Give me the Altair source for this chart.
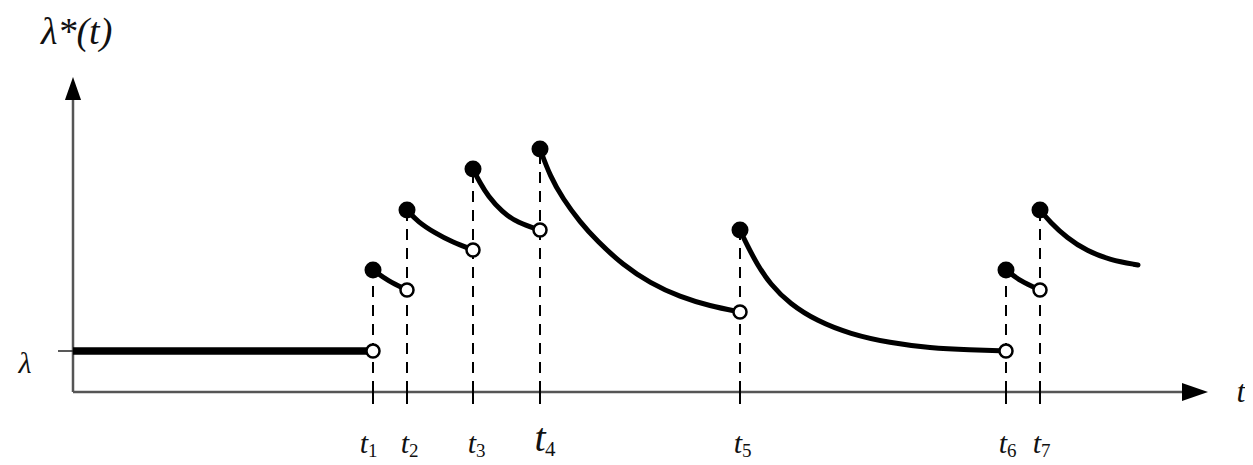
import altair as alt
import pandas as pd

# ---- data (t along the horizontal axis, lambda vertical) ----
event_t = [3.00, 3.34, 4.00, 4.67, 6.67, 9.33, 9.67]
event_names = ["1", "2", "3", "4", "5", "6", "7"]
jump_top = [1.22, 1.82, 2.23, 2.43, 1.62, 1.22, 1.82]   # intensity right after each event (filled dots)
pre_jump = [0.41, 1.02, 1.42, 1.62, 0.80, 0.41, 1.02]   # intensity just before each event (open dots)
base_lambda = 0.41

base_t = [0.00, 3.00]
base_l = [0.41, 0.41]

seg1_t = [3.00, 3.15, 3.34]
seg1_l = [1.22, 1.11, 1.02]
seg2_t = [3.34, 3.45, 3.62, 3.79, 4.00]
seg2_l = [1.82, 1.70, 1.59, 1.50, 1.42]
seg3_t = [4.00, 4.07, 4.15, 4.29, 4.45, 4.67]
seg3_l = [2.23, 2.09, 1.96, 1.80, 1.69, 1.62]
seg4_t = [4.67, 4.77, 4.90, 5.07, 5.24, 5.50, 5.77, 6.07, 6.37, 6.67]
seg4_l = [2.43, 2.16, 1.93, 1.70, 1.51, 1.27, 1.09, 0.95, 0.86, 0.80]
seg5_t = [6.67, 6.74, 6.84, 6.97, 7.17, 7.44, 7.77, 8.17, 8.57, 8.97, 9.33]
seg5_l = [1.62, 1.47, 1.28, 1.08, 0.88, 0.71, 0.58, 0.49, 0.44, 0.42, 0.41]
seg6_t = [9.33, 9.47, 9.67]
seg6_l = [1.22, 1.11, 1.02]
seg7_t = [9.67, 9.77, 9.94, 10.14, 10.37, 10.65]
seg7_l = [1.82, 1.70, 1.54, 1.41, 1.32, 1.27]

# label positions
label_t = [2.91, 3.32, 3.99, 4.67, 6.65, 9.30, 9.64]

# ---- layout constants ----
X_DOM = [-0.65, 11.72]
Y_DOM = [-0.73, 3.84]
W, H = 1237, 457
FONT = "Liberation Serif"
INK = "#111111"

xs = alt.Scale(domain=X_DOM, nice=False, zero=False)
ys = alt.Scale(domain=Y_DOM, nice=False, zero=False)


def X(f):
    return alt.X(f, type="quantitative", scale=xs, axis=None)


def Y(f):
    return alt.Y(f, type="quantitative", scale=ys, axis=None)


# axes
yaxis = alt.Chart(pd.DataFrame({"t": [0.0], "a": [0.0], "b": [2.97]})).mark_rule(
    color="#555555", strokeWidth=2.5).encode(x=X("t"), y=Y("a"), y2="b")
xaxis = alt.Chart(pd.DataFrame({"a": [0.0], "b": [11.17], "l": [0.0]})).mark_rule(
    color="#555555", strokeWidth=2.5).encode(x=X("a"), x2="b", y=Y("l"))
lam_tick = alt.Chart(pd.DataFrame({"a": [-0.15], "b": [0.0], "l": [base_lambda]})).mark_rule(
    color="#222222", strokeWidth=1.5).encode(x=X("a"), x2="b", y=Y("l"))

arrow_up = alt.Chart(pd.DataFrame({"t": [0.0], "l": [3.035]})).mark_point(
    shape="M0,-1L0.7,1L-0.7,1Z", filled=True, size=529, color="black", opacity=1,
    strokeWidth=0).encode(x=X("t"), y=Y("l"))
arrow_right = alt.Chart(pd.DataFrame({"t": [11.22], "l": [0.0]})).mark_point(
    shape="M1,0L-1,0.7L-1,-0.7Z", filled=True, size=676, color="black", opacity=1,
    strokeWidth=0).encode(x=X("t"), y=Y("l"))

ev = pd.DataFrame({"t": event_t, "top": jump_top, "pre": pre_jump, "zero": [0.0] * 7,
                   "lo": [-0.12] * 7, "hi": [0.08] * 7, "name": event_names,
                   "lt": label_t})

dashes = alt.Chart(ev).mark_rule(color="black", strokeWidth=2, strokeDash=[11, 8]).encode(
    x=X("t"), y=Y("zero"), y2="top")
ticks = alt.Chart(ev).mark_rule(color="black", strokeWidth=2).encode(
    x=X("t"), y=Y("lo"), y2="hi")

base = alt.Chart(pd.DataFrame({"t": base_t, "l": base_l})).mark_line(
    color="black", strokeWidth=7.5).encode(x=X("t"), y=Y("l"))

segs = []
for i, (tt, ll) in enumerate([(seg1_t, seg1_l), (seg2_t, seg2_l), (seg3_t, seg3_l),
                              (seg4_t, seg4_l), (seg5_t, seg5_l), (seg6_t, seg6_l),
                              (seg7_t, seg7_l)]):
    for k, (a, b) in enumerate(zip(tt, ll)):
        segs.append({"seg": i, "k": k, "t": a, "l": b})
curves = alt.Chart(pd.DataFrame(segs)).mark_line(
    color="black", strokeWidth=5, interpolate="basis", strokeCap="round").encode(
    x=X("t"), y=Y("l"), detail="seg:N", order="k:Q")

filled = alt.Chart(ev).mark_point(shape="circle", filled=True, size=290, color="black",
                                  opacity=1).encode(x=X("t"), y=Y("top"))
opened = alt.Chart(ev).mark_point(shape="circle", filled=True, size=170, fill="white",
                                  stroke="black", strokeWidth=2.5, opacity=1).encode(
    x=X("t"), y=Y("pre"))

# tick labels: t with subscript
ev_small = ev[ev["name"] != "4"]
ev_big = ev[ev["name"] == "4"]
lab_t = alt.Chart(ev_small).mark_text(text="t", font=FONT, fontStyle="italic", fontSize=30,
                                      color=INK, align="center", baseline="alphabetic").encode(
    x=X("lt"), y=alt.Y(datum=-0.605, scale=ys, axis=None))
lab_s = alt.Chart(ev_small).mark_text(font=FONT, fontSize=19, color=INK, align="left",
                                      baseline="alphabetic", dx=4).encode(
    x=X("lt"), y=alt.Y(datum=-0.65, scale=ys, axis=None), text="name:N")
lab_t4 = alt.Chart(ev_big).mark_text(text="t", font=FONT, fontStyle="italic", fontSize=40,
                                     color=INK, align="center", baseline="alphabetic").encode(
    x=X("lt"), y=alt.Y(datum=-0.59, scale=ys, axis=None))
lab_s4 = alt.Chart(ev_big).mark_text(font=FONT, fontSize=21, color=INK, align="left",
                                     baseline="alphabetic", dx=5).encode(
    x=X("lt"), y=alt.Y(datum=-0.64, scale=ys, axis=None), text="name:N")

texts = pd.DataFrame({"t": [11.68, -0.48, -0.32], "l": [0.0, 0.28, 3.59],
                      "txt": ["t", "λ", "λ*(t)"]})
t_lab = alt.Chart(texts.iloc[[0]]).mark_text(font=FONT, fontStyle="italic", fontSize=32,
                                             color=INK, align="center", baseline="middle").encode(
    x=X("t"), y=Y("l"), text="txt:N")
lam_lab = alt.Chart(texts.iloc[[1]]).mark_text(font=FONT, fontStyle="italic", fontSize=30,
                                               color=INK, align="center", baseline="middle").encode(
    x=X("t"), y=Y("l"), text="txt:N")
top_lab = alt.Chart(texts.iloc[[2]]).mark_text(font=FONT, fontStyle="italic", fontSize=38,
                                               color=INK, align="left", baseline="middle").encode(
    x=X("t"), y=Y("l"), text="txt:N")

chart = alt.layer(
    yaxis, xaxis, lam_tick, arrow_up, arrow_right, dashes, ticks, base, curves,
    filled, opened, lab_t, lab_s, lab_t4, lab_s4, t_lab, lam_lab, top_lab
).properties(
    width=W, height=H, padding=0, autosize=alt.AutoSizeParams(type="none"),
    background="white"
).configure_view(stroke=None)

chart.save("out.html", embed_options={"renderer": "svg", "actions": False})
